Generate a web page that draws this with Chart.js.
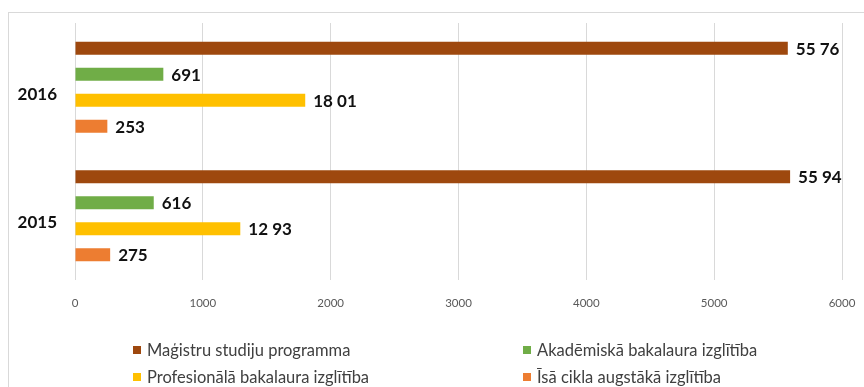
<!DOCTYPE html>
<html>
<head>
<meta charset="utf-8">
<script src="https://cdn.jsdelivr.net/npm/chart.js@4"></script>
<style>
  html, body { margin: 0; padding: 0; background: #fff; overflow: hidden; }
  #wrap { position: relative; width: 864px; height: 387px; }
  #frame { position: absolute; left: 8px; top: 12px; width: 900px; height: 400px; border: 1px solid #d9d9d9; }
  #legend { position: absolute; left: 0; top: 340px; width: 864px; font: 16.5px Lato, sans-serif; color: #404040; }
  #legend .item { position: absolute; display: flex; align-items: center; white-space: nowrap; }
  #legend .box { width: 8px; height: 8px; margin-right: 6px; }
</style>
</head>
<body>
<div id="wrap">
  <div id="frame"></div>
  <canvas id="chart" width="864" height="387"></canvas>
  <div id="legend"></div>
</div>
<script>
const years = ['2016', '2015'];
const magistru = [5576, 5594];
const akademiska = [691, 616];
const profesionala = [1801, 1293];
const isaCikla = [253, 275];
const xTicks = [0, 1000, 2000, 3000, 4000, 5000, 6000];

// four-digit values are written in digit pairs: 5576 -> "55 76"
function formatValue(v) {
  const s = String(v);
  return s.length > 3 ? s.slice(0, 2) + ' ' + s.slice(2) : s;
}

const valueLabels = {
  id: 'valueLabels',
  afterDatasetsDraw(chart) {
    const ctx = chart.ctx;
    ctx.save();
    ctx.font = 'bold 17px Lato';
    ctx.fillStyle = '#111';
    ctx.textBaseline = 'middle';
    chart.data.datasets.forEach((ds, i) => {
      chart.getDatasetMeta(i).data.forEach((bar, j) => {
        ctx.fillText(formatValue(ds.data[j]), bar.x + 8, bar.y + 1);
      });
    });
    ctx.restore();
  }
};

const chart = new Chart(document.getElementById('chart'), {
  type: 'bar',
  data: {
    labels: years,
    datasets: [
      { label: 'Maģistru studiju programma', data: magistru, backgroundColor: '#9e480e' },
      { label: 'Akadēmiskā bakalaura izglītība', data: akademiska, backgroundColor: '#70ad47' },
      { label: 'Profesionālā bakalaura izglītība', data: profesionala, backgroundColor: '#ffc000' },
      { label: 'Īsā cikla augstākā izglītība', data: isaCikla, backgroundColor: '#ed7d31' }
    ]
  },
  options: {
    indexAxis: 'y',
    responsive: false,
    animation: false,
    layout: { padding: { left: 10, right: 22, top: 23, bottom: 67 } },
    datasets: { bar: { categoryPercentage: 0.81, barPercentage: 0.5 } },
    plugins: { legend: { display: false }, tooltip: { enabled: false } },
    scales: {
      x: {
        min: 0,
        max: 6000,
        afterBuildTicks: axis => { axis.ticks = xTicks.map(v => ({ value: v })); },
        afterFit: axis => { axis.height = 40; },
        // tick marks kept only as spacing under the plot
        grid: { color: '#d9d9d9', drawTicks: true, tickLength: 14, tickColor: 'rgba(0,0,0,0)' },
        border: { display: false },
        ticks: {
          padding: 2,
          color: '#595959',
          font: { family: 'Lato', size: 11.5 },
          callback: v => String(v)
        }
      },
      y: {
        afterFit: axis => { axis.width = 65; },
        grid: { display: false, drawTicks: true, tickLength: 16 },
        border: { display: false },
        ticks: { padding: 2, labelOffset: 7, color: '#111', font: { family: 'Lato', size: 17, weight: 'bold' } }
      }
    }
  },
  plugins: [valueLabels]
});

// legend in two columns under the axis
const legendPos = [[133, 10], [523, 10], [133, 37], [523, 37]];
const legend = document.getElementById('legend');
chart.data.datasets.forEach((ds, i) => {
  const item = document.createElement('div');
  item.className = 'item';
  item.style.left = legendPos[i][0] + 'px';
  item.style.top = (legendPos[i][1] - 10) + 'px';
  item.innerHTML = '<span class="box" style="background:' + ds.backgroundColor + '"></span>' + ds.label;
  legend.appendChild(item);
});
</script>
</body>
</html>
